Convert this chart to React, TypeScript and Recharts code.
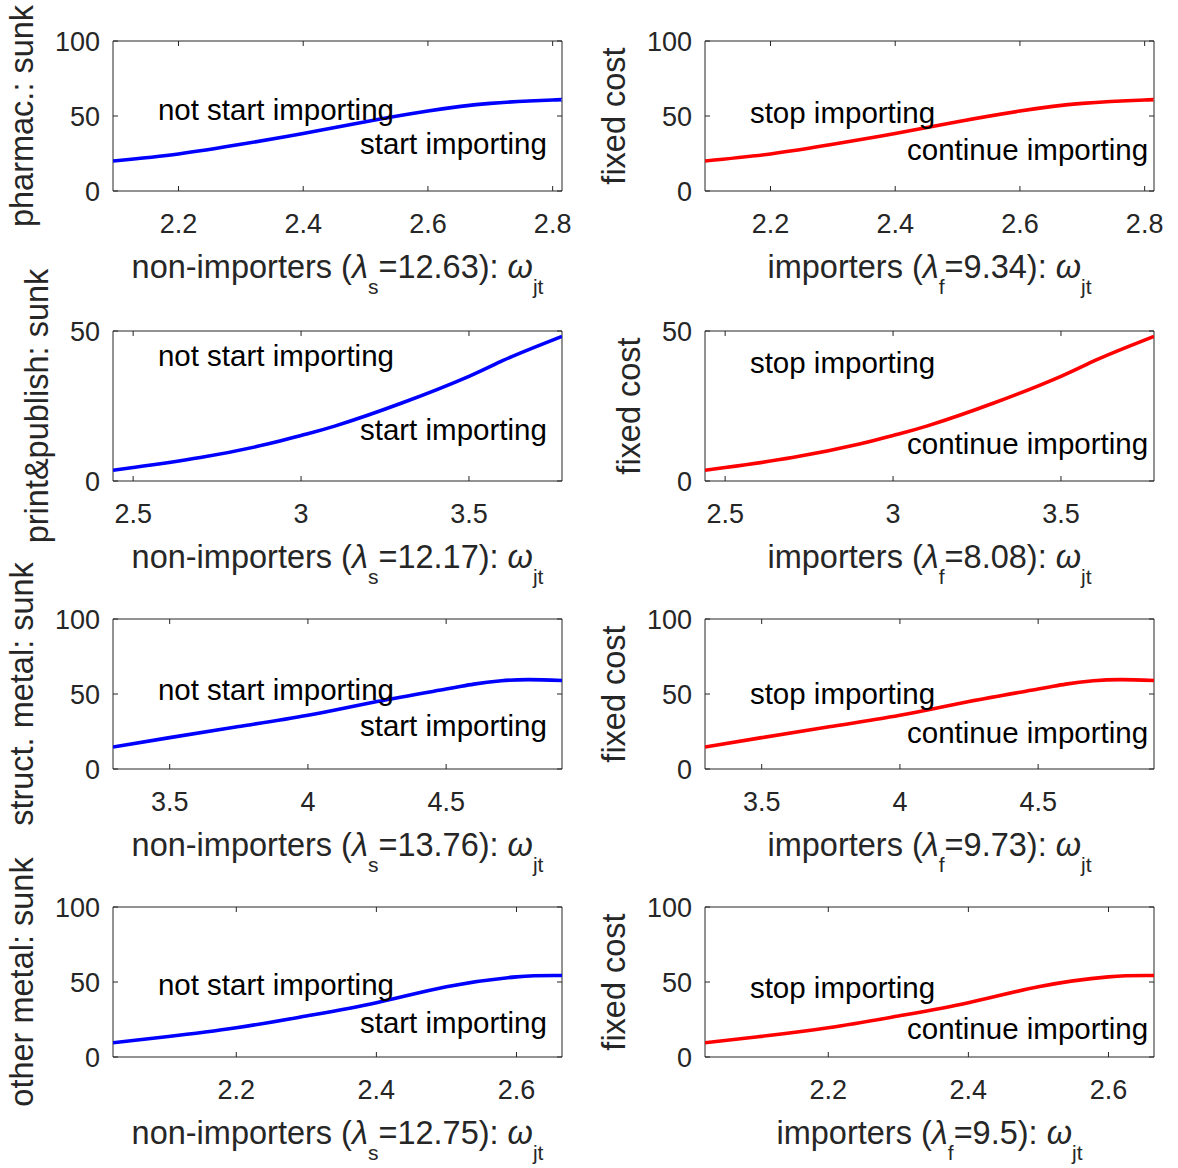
import React from "react";
import { LineChart, Line, XAxis, YAxis, ReferenceArea, ReferenceDot } from "recharts";

const FONT = '"Liberation Sans", Arial, Helvetica, sans-serif';
const INK = "#262626";

// threshold curves: x = omega_jt, y = cost
// (the fixed-cost panels show the same curve as the sunk-cost panels)
const pharmacX = [2.095, 2.2, 2.3, 2.4, 2.5, 2.6, 2.7, 2.8, 2.815];
const pharmacY = [20.0, 24.7, 31.1, 38.4, 46.2, 53.3, 58.4, 60.7, 60.8];

const printX = [2.44, 2.5, 2.7, 2.9, 3.0, 3.1, 3.3, 3.5, 3.6, 3.7, 3.777];
const printY = [3.6, 4.5, 7.8, 12.3, 15.2, 18.3, 26.0, 34.9, 40.1, 44.8, 48.2];

const structX = [3.295, 3.5, 3.75, 4.0, 4.25, 4.5, 4.6, 4.7, 4.8, 4.919];
const structY = [14.7, 20.9, 28.3, 35.8, 45.0, 53.3, 56.6, 58.8, 59.6, 59.0];

const otherX = [2.024, 2.1, 2.2, 2.3, 2.4, 2.5, 2.6, 2.665];
const otherY = [9.5, 13.5, 19.5, 27.3, 36.1, 46.8, 53.4, 54.3];

const industries = ["pharmac.", "print&publish", "struct. metal", "other metal"];
const lambdaS = ["12.63", "12.17", "13.76", "12.75"];
const lambdaF = ["9.34", "8.08", "9.73", "9.5"];

const xDomains = [
  [2.095, 2.815],
  [2.44, 3.777],
  [3.295, 4.919],
  [2.024, 2.665],
];
const xTicks = [
  [2.2, 2.4, 2.6, 2.8],
  [2.5, 3, 3.5],
  [3.5, 4, 4.5],
  [2.2, 2.4, 2.6],
];
const yMax = [100, 50, 100, 100];
const yTicks = [
  [0, 50, 100],
  [0, 50],
  [0, 50, 100],
  [0, 50, 100],
];

// annotation heights (data units), text x as share of the x range
const sunkUpperY = [54.3, 41.8, 53.0, 48.3];
const sunkLowerY = [31.7, 17.2, 28.7, 22.8];
const fixedUpperY = [52.5, 39.5, 50.3, 46.1];
const fixedLowerY = [27.7, 12.5, 24.0, 18.8];

const curves = [
  [pharmacX, pharmacY],
  [printX, printY],
  [structX, structY],
  [otherX, otherY],
];

const ROW_TOP = [41, 331, 619, 907];
const COL_LEFT = [113, 705];
const PW = 449;
const PH = 150;
const ML = 130;
const MT = 80;
const MR = 20;
const MB = 115;

function XTick({ x, y, payload }: any) {
  return (
    <g>
      <line x1={x} y1={y} x2={x} y2={y - 5} stroke={INK} />
      <line x1={x} y1={y - PH} x2={x} y2={y - PH + 5} stroke={INK} />
      <text x={x} y={y + 42} textAnchor="middle" fontSize={27} fill={INK} fontFamily={FONT}>
        {String(payload.value)}
      </text>
    </g>
  );
}

function YTick({ x, y, payload }: any) {
  return (
    <g>
      <line x1={x} y1={y} x2={x + 5} y2={y} stroke={INK} />
      <line x1={x + PW} y1={y} x2={x + PW - 5} y2={y} stroke={INK} />
      <text x={x - 13} y={y + 9.6} textAnchor="end" fontSize={27} fill={INK} fontFamily={FONT}>
        {String(payload.value)}
      </text>
    </g>
  );
}

function annot(text: string) {
  return { value: text, position: "right" as const, offset: 0, fontSize: 29.5, fill: "#000", fontFamily: FONT };
}

function Panel({ row, kind }: { row: number; kind: "sunk" | "fixed" }) {
  const sunk = kind === "sunk";
  const [lo, hi] = xDomains[row];
  const [xs, ys] = curves[row];
  const data = xs.map((x, i) => ({ x, y: ys[i] }));
  const span = hi - lo;
  const left = COL_LEFT[sunk ? 0 : 1] - ML;
  const top = ROW_TOP[row] - MT;
  const yLabelX = ML - 80 + (yMax[row] < 100 ? 15 : 0);
  const yLabel = sunk ? `${industries[row]}: sunk` : "fixed cost";
  const color = sunk ? "#0000ff" : "#ff0000";

  return (
    <div style={{ position: "absolute", left, top }}>
      <LineChart
        width={ML + PW + MR}
        height={MT + PH + MB}
        data={data}
        margin={{ top: MT, right: MR, left: 0, bottom: 0 }}
      >
        <XAxis
          type="number"
          dataKey="x"
          domain={[lo, hi]}
          allowDataOverflow
          ticks={xTicks[row]}
          interval={0}
          height={MB}
          tickSize={0}
          tickMargin={0}
          axisLine={false}
          tickLine={false}
          tick={XTick}
        />
        <YAxis
          type="number"
          domain={[0, yMax[row]]}
          allowDataOverflow
          ticks={yTicks[row]}
          interval={0}
          width={ML}
          tickSize={0}
          tickMargin={0}
          axisLine={false}
          tickLine={false}
          tick={YTick}
        />
        <ReferenceArea x1={lo} x2={hi} y1={0} y2={yMax[row]} fill="none" stroke={INK} strokeWidth={1} />
        <Line
          type="natural"
          dataKey="y"
          stroke={color}
          strokeWidth={3.6}
          dot={false}
          isAnimationActive={false}
        />
        {sunk ? (
          <>
            <ReferenceDot x={lo + 0.1 * span} y={sunkUpperY[row]} r={0} fill="none" stroke="none" label={annot("not start importing")} />
            <ReferenceDot x={lo + 0.55 * span} y={sunkLowerY[row]} r={0} fill="none" stroke="none" label={annot("start importing")} />
          </>
        ) : (
          <>
            <ReferenceDot x={lo + 0.1 * span} y={fixedUpperY[row]} r={0} fill="none" stroke="none" label={annot("stop importing")} />
            <ReferenceDot x={lo + 0.45 * span} y={fixedLowerY[row]} r={0} fill="none" stroke="none" label={annot("continue importing")} />
          </>
        )}
        <text
          transform={`translate(${yLabelX},${MT + PH / 2}) rotate(-90)`}
          textAnchor="middle"
          fontSize={32.5}
          fill={INK}
          fontFamily={FONT}
        >
          {yLabel}
        </text>
        <text x={ML + PW / 2} y={MT + PH + 87} textAnchor="middle" fontSize={32.5} fill={INK} fontFamily={FONT}>
          {sunk ? "non-importers (" : "importers ("}
          <tspan fontStyle="italic">λ</tspan>
          <tspan fontSize={21} dy={16}>{sunk ? "s" : "f"}</tspan>
          <tspan dy={-16}>{`=${sunk ? lambdaS[row] : lambdaF[row]}): `}</tspan>
          <tspan fontStyle="italic">ω</tspan>
          <tspan fontSize={21} dy={16}>jt</tspan>
        </text>
      </LineChart>
    </div>
  );
}

export default function App() {
  return (
    <div style={{ position: "absolute", left: 0, top: 0, width: 1178, height: 1168, background: "#fff", overflow: "hidden" }}>
      {[0, 1, 2, 3].map((r) => (
        <React.Fragment key={r}>
          <Panel row={r} kind="sunk" />
          <Panel row={r} kind="fixed" />
        </React.Fragment>
      ))}
    </div>
  );
}
